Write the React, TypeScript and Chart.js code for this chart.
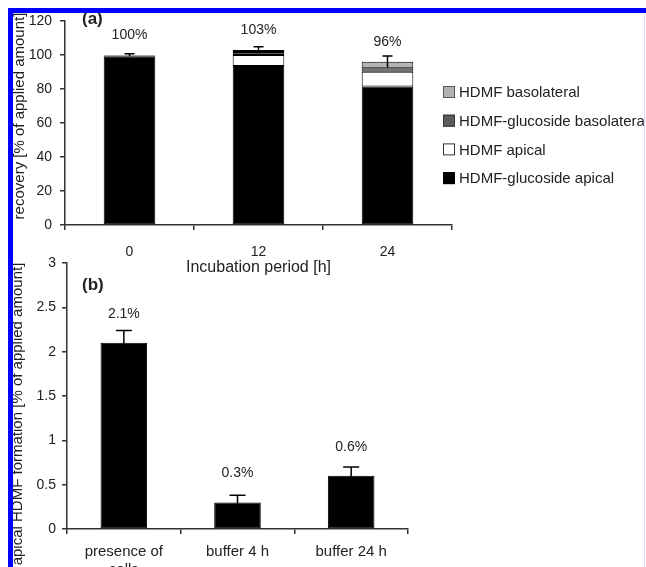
import React, { useEffect, useRef } from "react";
import { Chart, registerables } from "chart.js";

Chart.register(...registerables);

// ---------- Panel (a) data ----------
const incubationHours = ["0", "12", "24"];
const glucosideApical = [99.3, 93.5, 81.4];
const hdmfApical = [0.3, 6.5, 8.8];
const glucosideBasolateral = [0.2, 1.8, 2.0];
const hdmfBasolateral = [0.2, 1.2, 3.8];
const recoveryError = [0.8, 1.8, 3.4];
const recoveryLabels = ["100%", "103%", "96%"];
const recoveryTickStep = 20;
const recoveryMax = 120;

// ---------- Panel (b) data ----------
const formationCategories = [["presence of", "cells"], "buffer 4 h", "buffer 24 h"];
const formationValues = [2.1, 0.3, 0.6];
const formationError = [0.14, 0.08, 0.1];
const formationLabels = ["2.1%", "0.3%", "0.6%"];
const formationTickStep = 0.5;
const formationMax = 3;

const FONT = "'Liberation Sans', Arial, sans-serif";
const TEXT = "#222";
const AXIS = "#333";

const errorLabelPlugin = {
  id: "errorLabels",
  afterDatasetsDraw(chart: any, _args: any, opts: any) {
    const { ctx, scales } = chart;
    const x = scales.x;
    const y = scales.y;
    const n = chart.data.labels.length;
    ctx.save();
    for (let i = 0; i < n; i++) {
      let total = 0;
      chart.data.datasets.forEach((ds: any) => (total += ds.data[i]));
      const cx = x.getPixelForValue(i);
      const err = opts.errors[i];
      const yTop = y.getPixelForValue(total + err);
      const yBot = y.getPixelForValue(total - err);
      ctx.strokeStyle = "#000";
      ctx.lineWidth = 1.5;
      ctx.beginPath();
      ctx.moveTo(cx, yBot);
      ctx.lineTo(cx, yTop);
      ctx.moveTo(cx - opts.cap / 2, yTop);
      ctx.lineTo(cx + opts.cap / 2, yTop);
      ctx.stroke();
      ctx.fillStyle = TEXT;
      ctx.font = `${opts.fontSize}px ${FONT}`;
      ctx.textAlign = "center";
      ctx.textBaseline = "middle";
      ctx.fillText(opts.labels[i], cx, y.getPixelForValue(total) - opts.labelOffset);
    }
    ctx.restore();
  },
};

const textPlugin = {
  id: "extraText",
  afterDraw(chart: any, _args: any, opts: any) {
    const { ctx, chartArea } = chart;
    ctx.save();
    ctx.fillStyle = TEXT;
    ctx.font = `15px ${FONT}`;
    ctx.textAlign = "center";
    ctx.textBaseline = "middle";
    ctx.translate(chartArea.left + opts.yTitleDx, (chartArea.top + chartArea.bottom) / 2 + opts.yTitleDy);
    ctx.rotate(-Math.PI / 2);
    ctx.fillText(opts.yTitle, 0, 0);
    ctx.restore();
    ctx.save();
    ctx.fillStyle = TEXT;
    ctx.font = `bold 17px ${FONT}`;
    ctx.textAlign = "left";
    ctx.textBaseline = "middle";
    ctx.fillText(opts.letter, chartArea.left + opts.letterDx, chartArea.top + opts.letterDy);
    ctx.restore();
  },
};

const legendPlugin = {
  id: "sideLegend",
  afterDraw(chart: any, _args: any, opts: any) {
    if (!opts || !opts.show) return;
    const { ctx, chartArea } = chart;
    const ds = [...chart.data.datasets].reverse();
    ctx.save();
    ds.forEach((d: any, i: number) => {
      const cy = chartArea.top + opts.firstDy + i * opts.rowGap;
      const bx = chartArea.right + opts.dx;
      ctx.fillStyle = d.backgroundColor;
      ctx.fillRect(bx, cy - 6, 12, 12);
      ctx.strokeStyle = d.legendBorder || "#444";
      ctx.lineWidth = 1;
      ctx.strokeRect(bx + 0.5, cy - 5.5, 11, 11);
      ctx.fillStyle = TEXT;
      ctx.font = `15px ${FONT}`;
      ctx.textAlign = "left";
      ctx.textBaseline = "middle";
      ctx.fillText(d.label, bx + 16, cy + 1);
    });
    ctx.restore();
  },
};

function axisCommon(fontSize: number, tickPad: number) {
  return {
    grid: { display: true, drawOnChartArea: false, tickLength: 5, color: AXIS, lineWidth: 1.5 },
    border: { display: true, color: AXIS, width: 1.5 },
    ticks: { color: TEXT, font: { family: FONT, size: fontSize }, padding: tickPad },
  };
}

export default function App() {
  const refA = useRef<HTMLCanvasElement>(null);
  const refB = useRef<HTMLCanvasElement>(null);

  useEffect(() => {
    const xA = axisCommon(14, 14);
    const yA = axisCommon(14, 8);
    const chartA = new Chart(refA.current!, {
      type: "bar",
      data: {
        labels: incubationHours,
        datasets: [
          { label: "HDMF-glucoside apical", data: glucosideApical, backgroundColor: "#000", borderColor: "#000", borderWidth: 1, borderSkipped: false, legendBorder: "#000" } as any,
          { label: "HDMF apical", data: hdmfApical, backgroundColor: "#fff", borderColor: "#000", borderWidth: 1, borderSkipped: false, legendBorder: "#333" } as any,
          { label: "HDMF-glucoside basolateral", data: glucosideBasolateral, backgroundColor: "#5c5c5c", borderColor: "#000", borderWidth: 1, borderSkipped: false, legendBorder: "#333" } as any,
          { label: "HDMF basolateral", data: hdmfBasolateral, backgroundColor: "#b2b2b2", borderColor: "#000", borderWidth: 1, borderSkipped: false, legendBorder: "#555" } as any,
        ],
      },
      options: {
        animation: false,
        responsive: false,
        layout: { padding: { left: 15, top: 21, right: 194, bottom: 282 } },
        datasets: { bar: { barPercentage: 0.4, categoryPercentage: 1 } },
        plugins: {
          legend: { display: false },
          tooltip: { enabled: false },
          errorLabels: { errors: recoveryError, labels: recoveryLabels, cap: 10, labelOffset: 20, fontSize: 14 },
          extraText: { yTitle: "recovery [% of applied amount]", yTitleDx: -45, yTitleDy: -7, letter: "(a)", letterDx: 17, letterDy: -2 },
          sideLegend: { show: true, dx: -9, firstDy: 71, rowGap: 28.7 },
        } as any,
        scales: {
          x: {
            stacked: true,
            ...xA,
            grid: { ...xA.grid, offset: true },
            title: { display: true, text: "Incubation period [h]", color: TEXT, font: { family: FONT, size: 16 }, padding: { top: 0, bottom: 8 } },
            afterFit: (s: any) => { s.height = 60; },
          },
          y: {
            stacked: true,
            min: 0,
            max: recoveryMax,
            ...yA,
            ticks: { ...yA.ticks, stepSize: recoveryTickStep },
            afterFit: (s: any) => { s.width = 50; },
          },
        },
      },
      plugins: [errorLabelPlugin, textPlugin, legendPlugin],
    });

    const xB = axisCommon(15, 9);
    const yB = axisCommon(14, 6);
    const chartB = new Chart(refB.current!, {
      type: "bar",
      data: {
        labels: formationCategories as any,
        datasets: [
          { label: "apical HDMF formation", data: formationValues, backgroundColor: "#000", borderColor: "#000", borderWidth: 1, borderSkipped: false },
        ],
      },
      options: {
        animation: false,
        responsive: false,
        layout: { padding: { left: 15, top: 263, right: 238, bottom: 0 } },
        datasets: { bar: { barPercentage: 0.41, categoryPercentage: 1 } },
        plugins: {
          legend: { display: false },
          tooltip: { enabled: false },
          errorLabels: { errors: formationError, labels: formationLabels, cap: 16, labelOffset: 29, fontSize: 14 },
          extraText: { yTitle: "apical HDMF formation [% of applied amount]", yTitleDx: -49, yTitleDy: 18, letter: "(b)", letterDx: 15, letterDy: 22 },
          sideLegend: { show: false },
        } as any,
        scales: {
          x: {
            ...xB,
            grid: { ...xB.grid, offset: true },
            afterFit: (s: any) => { s.height = 38; },
          },
          y: {
            min: 0,
            max: formationMax,
            ...yB,
            ticks: { ...yB.ticks, stepSize: formationTickStep, callback: (v: any) => String(Math.round(Number(v) * 100) / 100) },
            afterFit: (s: any) => { s.width = 52; },
          },
        },
      },
      plugins: [errorLabelPlugin, textPlugin, legendPlugin],
    });

    return () => {
      chartA.destroy();
      chartB.destroy();
    };
  }, []);

  return (
    <div style={{ position: "fixed", left: 0, top: 0, width: 646, height: 567, overflow: "hidden", background: "#fff" }}>
      <canvas ref={refA} width={646} height={567} style={{ position: "absolute", left: 0, top: 0 }} />
      <canvas ref={refB} width={646} height={567} style={{ position: "absolute", left: 0, top: 0 }} />
      <div style={{ position: "absolute", left: 8, top: 8, width: 638, height: 5, background: "#0000ff" }} />
      <div style={{ position: "absolute", left: 8, top: 8, width: 5, height: 559, background: "#0000ff" }} />
      <div style={{ position: "absolute", left: 644, top: 13, width: 1, height: 554, background: "#dcdcf4" }} />
    </div>
  );
}
